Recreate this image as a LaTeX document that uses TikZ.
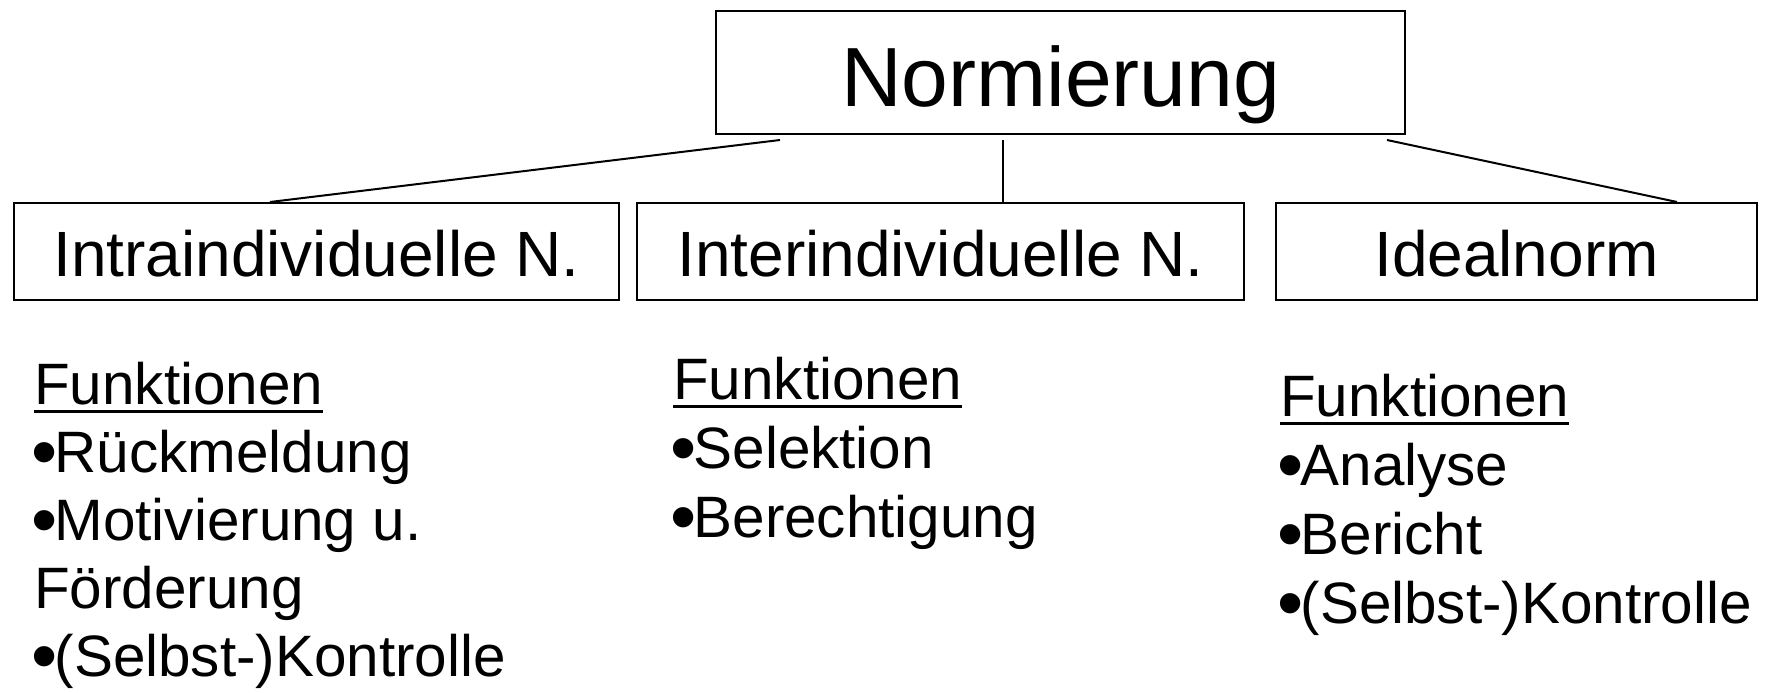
\documentclass[tikz,border=0pt]{standalone}
\usepackage{fontspec}
\usepackage{graphicx}
\setmainfont{Liberation Sans}
\usetikzlibrary{calc}
\newcommand{\ulword}[1]{\setbox0\hbox{#1}\rlap{\rule[-9pt]{\wd0}{3.5pt}}\box0}
\newcommand{\bul}{\makebox[0.35em][c]{\raisebox{-0.09em}{\scalebox{1.28}{•}}}}
\begin{document}
\begin{tikzpicture}[x=1pt,y=-1pt,
  box/.style={draw,line width=2pt,inner sep=0pt},
  lbl/.style={inner sep=0pt,anchor=base,font=\fontsize{64}{70}\selectfont},
  body/.style={inner sep=0pt,anchor=base west,font=\fontsize{58.4}{70}\selectfont},
  conn/.style={line width=2pt}]
\useasboundingbox (0,0) rectangle (1769,693);
% boxes
\node[box,minimum width=689pt,minimum height=123pt] (top) at (1060.5,72.5) {};
\node[box,minimum width=605pt,minimum height=97pt] (b1) at (316.5,251.5) {};
\node[box,minimum width=607pt,minimum height=97pt] (b2) at (940.5,251.5) {};
\node[box,minimum width=481pt,minimum height=97pt] (b3) at (1516.5,251.5) {};
% labels
\node[lbl,font=\fontsize{84}{90}\selectfont] (ttop) at (1060.5,106) {Normierung};
\node[lbl] (t1) at (316.5,276) {Intraindividuelle N.};
\node[lbl] (t2) at (940.5,276) {Interindividuelle N.};
\node[lbl] (t3) at (1516.5,276) {Idealnorm};
% connectors
\draw[conn] ($(top.south west)+(65,5)$) -- ($(b1.north west)+(257,0)$);
\draw[conn] ($(top.south west)+(288,5)$) -- ($(b2.north west)+(367,0)$);
\draw[conn] ($(top.south west)+(672,5)$) -- ($(b3.north west)+(402,0)$);
% left column
\node[body] (l0) at (34,404) {\ulword{Funktionen}};
\node[body] (l1) at (34,472) {\bul Rückmeldung};
\node[body] (l2) at (34,540) {\bul Motivierung u.};
\node[body] (l3) at (34,608) {Förderung};
\node[body] (l4) at (34,676) {\bul(Selbst-)Kontrolle};
% middle column
\node[body] (m0) at (673,399) {\ulword{Funktionen}};
\node[body] (m1) at (673,468) {\bul Selektion};
\node[body] (m2) at (673,537) {\bul Berechtigung};
% right column
\node[body] (r0) at (1280,416) {\ulword{Funktionen}};
\node[body] (r1) at (1280,485) {\bul Analyse};
\node[body] (r2) at (1280,554) {\bul Bericht};
\node[body] (r3) at (1280,623) {\bul(Selbst-)Kontrolle};
\end{tikzpicture}
\end{document}
